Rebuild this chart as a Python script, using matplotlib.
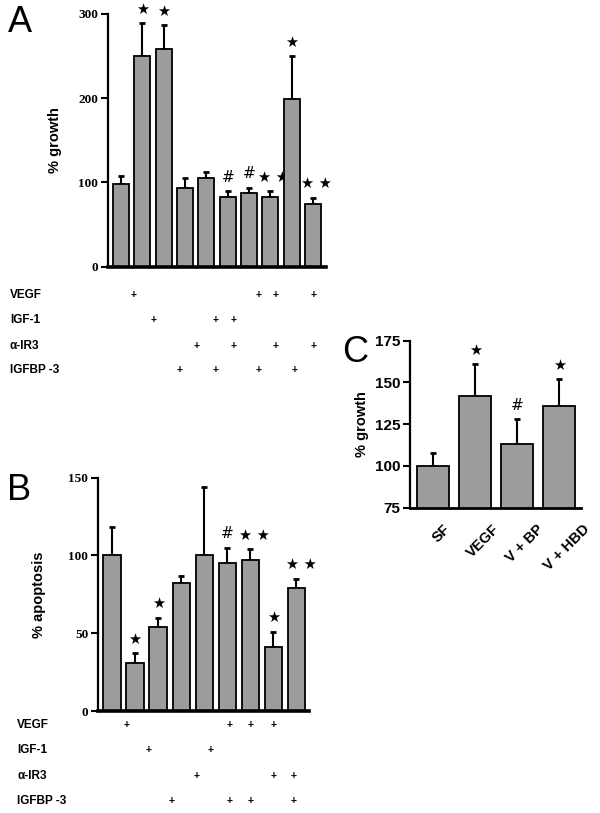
"""Three-panel bar figure: growth (A), apoptosis (B) and growth with VEGF variants (C)."""

import matplotlib

matplotlib.use("Agg")
import matplotlib.pyplot as plt
from matplotlib.transforms import ScaledTranslation, blended_transform_factory

plt.rcParams["font.family"] = ["Liberation Sans", "DejaVu Sans"]

# Panel A: % growth, 10 conditions
A_VALUES = [98, 250, 258, 94, 105, 83, 87, 83, 199, 74]
A_ERR_TOP = [108, 289, 287, 105, 113, 90, 94, 90, 250, 82]
A_MARKS = ["", "★", "★", "", "", "#", "#", "★ ★", "★", "★ ★"]
A_ROWS = ["VEGF", "IGF-1", "α-IR3", "IGFBP -3"]
A_TABLE = [
    [1, 0, 0, 0, 0, 0, 1, 1, 0, 1],
    [0, 1, 0, 0, 1, 1, 0, 0, 0, 0],
    [0, 0, 0, 1, 0, 1, 0, 1, 0, 1],
    [0, 0, 1, 0, 1, 0, 1, 0, 1, 0],
]

# Panel B: % apoptosis, 9 conditions
B_VALUES = [100, 31, 54, 82, 100, 95, 97, 41, 79]
B_ERR_TOP = [118, 37, 60, 87, 144, 105, 104, 51, 85]
B_MARKS = ["", "★", "★", "", "", "#", "★ ★", "★", "★ ★"]
B_ROWS = ["VEGF", "IGF-1", "α-IR3", "IGFBP -3"]
B_TABLE = [
    [1, 0, 0, 0, 0, 1, 1, 1, 0],
    [0, 1, 0, 0, 1, 0, 0, 0, 0],
    [0, 0, 0, 1, 0, 0, 0, 1, 1],
    [0, 0, 1, 0, 0, 1, 1, 0, 1],
]

# Panel C: % growth, 4 conditions
C_LABELS = ["SF", "VEGF", "V + BP", "V + HBD"]
C_VALUES = [100, 142, 113, 136]
C_ERR_TOP = [108, 161, 128, 152]
C_MARKS = ["", "★", "#", "★"]

W, H = 600, 813
BAR_COLOR = "#9c9c9c"


def px_axes(fig, left, top, right, bottom):
    return fig.add_axes([left / W, 1 - bottom / H, (right - left) / W, (bottom - top) / H])


def bar_panel(ax, values, err_top, marks, ylim, ticks, tick_font, double_shift):
    x = range(len(values))
    ax.bar(x, values, width=0.75, color=BAR_COLOR, edgecolor="black", linewidth=1.3, zorder=2)
    up = [e - v for e, v in zip(err_top, values)]
    ax.errorbar(x, values, yerr=[[0] * len(values), up], fmt="none", ecolor="black",
                elinewidth=1.5, capsize=2.5, capthick=2, zorder=1)
    for i, (m, e) in enumerate(zip(marks, err_top)):
        if not m:
            continue
        xi = i + (double_shift if " " in m else 0)
        size = 11 if m == "#" else 10.5
        ax.annotate(m, (xi, e), xytext=(0, 10), textcoords="offset points",
                    ha="center", va="center", fontsize=size, family=["DejaVu Sans"],
                    zorder=1.5)
    ax.set_ylim(*ylim)
    ax.set_yticks(ticks)
    ax.set_yticklabels([str(t) for t in ticks], **tick_font)
    for s in ("top", "right"):
        ax.spines[s].set_visible(False)
    ax.spines["left"].set_linewidth(1.6)
    ax.spines["bottom"].set_linewidth(2.6)
    ax.set_xticks([])
    ax.tick_params(axis="y", length=5, width=1.5, pad=2)


def plus_table(fig, ax, rows, table, cols, row_y, label_x):
    tr = blended_transform_factory(ax.transData, fig.transFigure)
    for r, (name, flags) in enumerate(zip(rows, table)):
        y = 1 - row_y[r] / H
        fig.text(label_x / W, y, name, ha="left", va="center", fontsize=8.5, fontweight="bold")
        for c, f in enumerate(flags):
            if f:
                ax.text(cols[c], y, "+", transform=tr, ha="center", va="center",
                        fontsize=7.5, fontweight="bold")


def main():
    fig = plt.figure(figsize=(W / 100, H / 100), dpi=100)
    serif_ticks = {"fontfamily": "Liberation Serif", "fontweight": "bold", "fontsize": 9.5}
    sans_ticks = {"fontweight": "bold", "fontsize": 11}

    # Panel A
    axA = px_axes(fig, 108, 14, 326, 266.7)
    bar_panel(axA, A_VALUES, A_ERR_TOP, A_MARKS, (0, 300), [0, 100, 200, 300], serif_ticks, 0.16)
    axA.set_xlim(-0.61, 9.6)
    axA.set_ylabel("% growth", fontsize=10.5, fontweight="bold", labelpad=12)
    plus_table(fig, axA, A_ROWS, A_TABLE,
               [0.61, 1.55, 2.74, 3.54, 4.43, 5.28, 6.46, 7.26, 8.11, 9.0],
               [295, 320, 346, 370], 10)
    fig.text(8 / W, 1 - 22 / H, "A", fontsize=26, va="center", ha="left")

    # Panel B
    axB = px_axes(fig, 98, 477.7, 309, 711)
    bar_panel(axB, B_VALUES, B_ERR_TOP, B_MARKS, (0, 150), [0, 50, 100, 150], serif_ticks, 0.2)
    axB.set_xlim(-0.61, 8.55)
    axB.set_ylabel("% apoptosis", fontsize=10.5, fontweight="bold", labelpad=16)
    plus_table(fig, axB, B_ROWS, B_TABLE,
               [0.65, 1.6, 2.6, 3.65, 4.3, 5.1, 6.0, 7.0, 7.9],
               [725, 750, 776, 801], 17)
    fig.text(7 / W, 1 - 490 / H, "B", fontsize=26, va="center", ha="left")

    # Panel C
    axC = px_axes(fig, 410, 340.7, 581, 507.7)
    bar_panel(axC, C_VALUES, C_ERR_TOP, C_MARKS, (75, 175), [75, 100, 125, 150, 175], sans_ticks, 0)
    axC.spines["bottom"].set_linewidth(2)
    axC.set_xlim(-0.55, 3.52)
    axC.set_xticks(range(len(C_LABELS)))
    axC.set_xticklabels(C_LABELS, rotation=45, ha="center", va="top",
                        fontsize=10.5, fontweight="bold")
    axC.tick_params(axis="x", length=0, pad=10)
    shift = ScaledTranslation(8 / 100, 0, fig.dpi_scale_trans)
    for t in axC.get_xticklabels():
        t.set_transform(t.get_transform() + shift)
    axC.set_ylabel("% growth", fontsize=10.5, fontweight="bold", labelpad=4)
    fig.text(342 / W, 1 - 352 / H, "C", fontsize=26, va="center", ha="left")

    fig.savefig("out.png", dpi=100)


if __name__ == "__main__":
    main()
